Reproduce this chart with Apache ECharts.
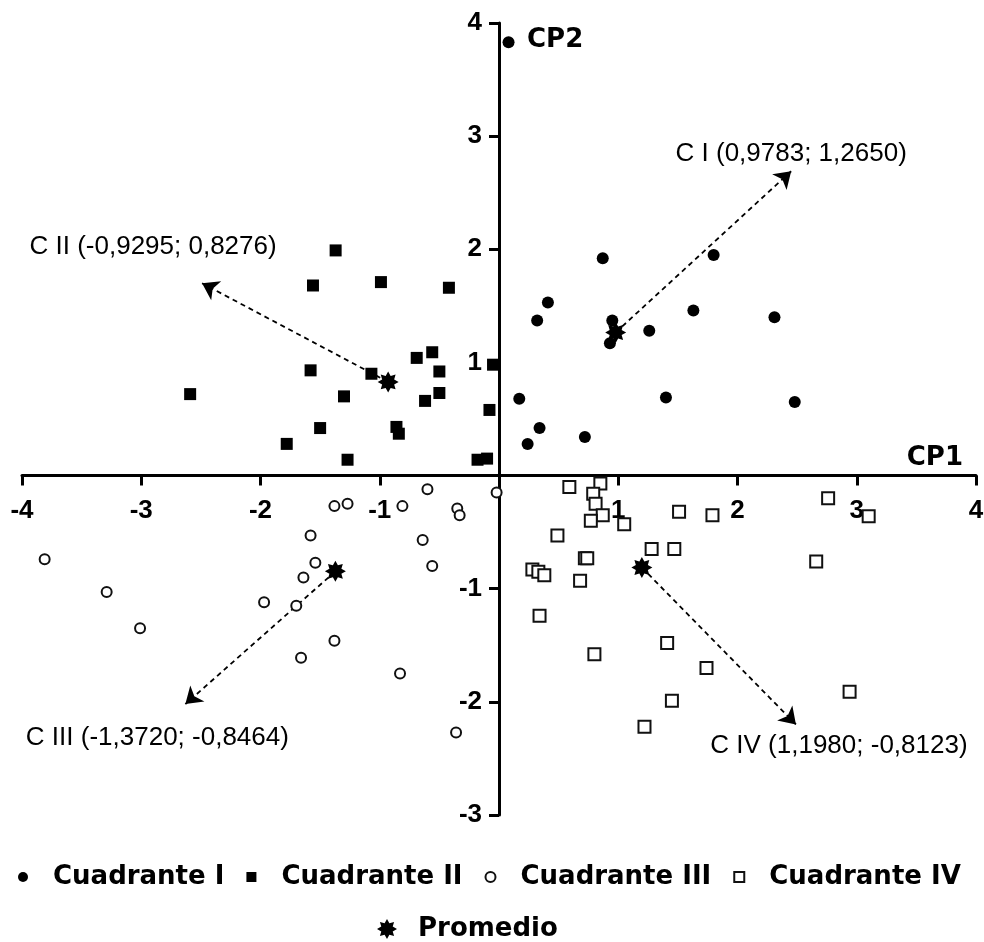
<!DOCTYPE html>
<html lang="es">
<head>
    <meta charset="utf-8">
    <title>CP1 vs CP2</title>
    <script src="https://cdn.jsdelivr.net/npm/echarts@6.0.0/dist/echarts.min.js"></script>
    <style>
        html, body { margin: 0; padding: 0; background: #fff; }
        #main { width: 984px; height: 942px; }
    </style>
</head>
<body>
<div id="main"></div>
<script type="text/javascript">
    // puntos por cuadrante [CP1, CP2]
    var cuadranteI = [
        [0.08, 3.83], [0.87, 1.92], [0.41, 1.53], [0.32, 1.37], [0.95, 1.37],
        [0.93, 1.17], [1.26, 1.28], [1.63, 1.46], [1.80, 1.95], [2.31, 1.40],
        [2.48, 0.65], [1.40, 0.69], [0.17, 0.68], [0.34, 0.42], [0.24, 0.28],
        [0.72, 0.34]
    ];
    var cuadranteII = [
        [-1.37, 1.99], [-1.56, 1.68], [-0.99, 1.71], [-0.42, 1.66], [-0.69, 1.04],
        [-0.56, 1.09], [-0.50, 0.92], [-1.07, 0.90], [-1.58, 0.93], [-2.59, 0.72],
        [-1.30, 0.70], [-0.62, 0.66], [-0.50, 0.73], [-1.50, 0.42], [-1.78, 0.28],
        [-0.86, 0.43], [-0.84, 0.37], [-1.27, 0.14], [-0.18, 0.14], [-0.10, 0.15],
        [-0.05, 0.98], [-0.08, 0.58]
    ];
    var cuadranteIII = [
        [-3.81, -0.74], [-3.29, -1.03], [-3.01, -1.35], [-1.38, -0.27], [-1.27, -0.25],
        [-0.81, -0.27], [-0.60, -0.12], [-0.35, -0.29], [-0.33, -0.35], [-0.02, -0.15],
        [-1.58, -0.53], [-0.64, -0.57], [-1.54, -0.77], [-0.56, -0.80], [-1.64, -0.90],
        [-1.97, -1.12], [-1.70, -1.15], [-1.38, -1.46], [-1.66, -1.61], [-0.83, -1.75],
        [-0.36, -2.27]
    ];
    var cuadranteIV = [
        [0.59, -0.10], [0.85, -0.07], [0.79, -0.16], [0.81, -0.25], [0.87, -0.35],
        [0.77, -0.40], [1.05, -0.43], [1.51, -0.32], [1.79, -0.35], [2.76, -0.20],
        [3.10, -0.36], [0.49, -0.53], [1.28, -0.65], [1.47, -0.65], [0.72, -0.73],
        [0.74, -0.73], [2.66, -0.76], [0.28, -0.83], [0.33, -0.85], [0.38, -0.88],
        [0.68, -0.93], [0.34, -1.24], [0.80, -1.58], [1.41, -1.48], [1.74, -1.70],
        [1.45, -1.99], [1.22, -2.22], [2.94, -1.91]
    ];
    // medias por cuadrante
    var promedio = [[0.9783, 1.2650], [-0.9295, 0.8276], [-1.3720, -0.8464], [1.1980, -0.8123]];
    var promedioTxt = ['C I (0,9783; 1,2650)', 'C II (-0,9295; 0,8276)', 'C III (-1,3720; -0,8464)', 'C IV (1,1980; -0,8123)'];
    // punta de cada flecha
    var puntaFlecha = [[2.45, 2.69], [-2.49, 1.70], [-2.63, -2.02], [2.49, -2.20]];
    var ticksX = [-4, -3, -2, -1, 1, 2, 3, 4];
    var ticksY = [-3, -2, -1, 1, 2, 3, 4];

    // asterisco relleno (8 puntas)
    function asterisco() {
        var p = [];
        for (var i = 0; i < 16; i++) {
            var a = Math.PI * i / 8;
            var r = i % 2 === 0 ? 50 : 31;
            p.push((50 + r * Math.sin(a)).toFixed(1) + ' ' + (50 - r * Math.cos(a)).toFixed(1));
        }
        return 'path://M' + p.join(' L') + ' Z';
    }

    var offsets = [[0, -17], [-49, -36], [-28, 34], [43, 21]];
    var tickFont = {fontFamily: 'Liberation Sans', fontWeight: 'bold', fontSize: 26, color: '#000'};
    var boldWide = {fontFamily: 'DejaVu Sans', fontWeight: 'bold', fontSize: 26, color: '#000'};

    var myChart = echarts.init(document.getElementById('main'));
    var option = {
        backgroundColor: '#fff',
        animation: false,
        grid: {left: 22, right: 8, top: 23, bottom: 127, containLabel: false, outerBoundsMode: 'none'},
        legend: [{
            data: ['Cuadrante I', 'Cuadrante II', 'Cuadrante III', 'Cuadrante IV'],
            left: 13, top: 859,
            itemWidth: 10, itemHeight: 10, itemGap: 22,
            textStyle: Object.assign({padding: [0, 0, 0, 20]}, boldWide)
        }, {
            data: ['Promedio'],
            left: 372, top: 911,
            itemWidth: 20, itemHeight: 20,
            textStyle: Object.assign({padding: [0, 0, 0, 16]}, boldWide)
        }],
        xAxis: {
            type: 'value', min: -4, max: 4, interval: 1,
            name: 'CP1', nameLocation: 'end', nameGap: -13,
            nameTextStyle: Object.assign({align: 'right', verticalAlign: 'bottom', padding: [0, 0, 4, 0]}, boldWide),
            axisLine: {onZero: false, lineStyle: {color: '#000', width: 3}},
            axisTick: {length: 10, lineStyle: {color: '#000', width: 3}},
            axisLabel: Object.assign({
                margin: 22,
                formatter: function (v) { return ticksX.indexOf(v) >= 0 ? String(v) : ''; }
            }, tickFont),
            splitLine: {show: false}
        },
        yAxis: {
            type: 'value', min: -3, max: 4, interval: 1,
            name: 'CP2', nameLocation: 'end', nameGap: -17,
            nameTextStyle: Object.assign({align: 'left', verticalAlign: 'middle', padding: [0, 0, 0, 28]}, boldWide),
            axisLine: {onZero: false, lineStyle: {color: '#000', width: 3}},
            axisTick: {length: 10, lineStyle: {color: '#000', width: 3}},
            axisLabel: Object.assign({
                margin: 17,
                formatter: function (v) { return ticksY.indexOf(v) >= 0 ? String(v) : ''; }
            }, tickFont),
            splitLine: {show: false}
        },
        series: [{
            type: 'lines',
            coordinateSystem: 'cartesian2d',
            z: 1,
            symbol: ['none', 'arrow'],
            symbolSize: [12, 16],
            lineStyle: {color: '#000', width: 1.8, type: [5, 4], opacity: 1},
            data: promedio.map(function (p, i) { return {coords: [p, puntaFlecha[i]]}; })
        }, {
            name: 'Cuadrante I', type: 'scatter', symbol: 'circle', symbolSize: 12,
            itemStyle: {color: '#000', opacity: 1}, data: cuadranteI
        }, {
            name: 'Cuadrante II', type: 'scatter', symbol: 'rect', symbolSize: 12,
            itemStyle: {color: '#000', opacity: 1}, data: cuadranteII
        }, {
            name: 'Cuadrante III', type: 'scatter', symbol: 'emptyCircle', symbolSize: 10,
            itemStyle: {color: '#111', borderColor: '#111', borderWidth: 1.5, opacity: 1}, data: cuadranteIII
        }, {
            name: 'Cuadrante IV', type: 'scatter', symbol: 'emptyRect', symbolSize: 12,
            itemStyle: {color: '#111', borderColor: '#111', borderWidth: 1.5, opacity: 1}, data: cuadranteIV
        }, {
            name: 'Promedio', type: 'scatter', symbol: asterisco(), symbolSize: 21, z: 5,
            itemStyle: {color: '#000', opacity: 1}, data: promedio
        }, {
            name: 'etiquetas', type: 'scatter', symbolSize: 0, silent: true,
            itemStyle: {opacity: 1},
            data: puntaFlecha.map(function (p, i) {
                return {
                    value: p,
                    label: {
                        show: true, position: 'inside', offset: offsets[i],
                        formatter: promedioTxt[i],
                        fontFamily: 'Liberation Sans', fontSize: 26, color: '#000'
                    }
                };
            })
        }]
    };
    myChart.setOption(option);

    // mover los ejes al origen (0,0)
    for (var k = 0; k < 2; k++) {
        var origen = myChart.convertToPixel({gridIndex: 0}, [0, 0]);
        var esquina = myChart.convertToPixel({gridIndex: 0}, [-4, -3]);
        myChart.setOption({
            xAxis: {offset: -(esquina[1] - origen[1])},
            yAxis: {offset: -(origen[0] - esquina[0])}
        });
    }
</script>
</body>
</html>
